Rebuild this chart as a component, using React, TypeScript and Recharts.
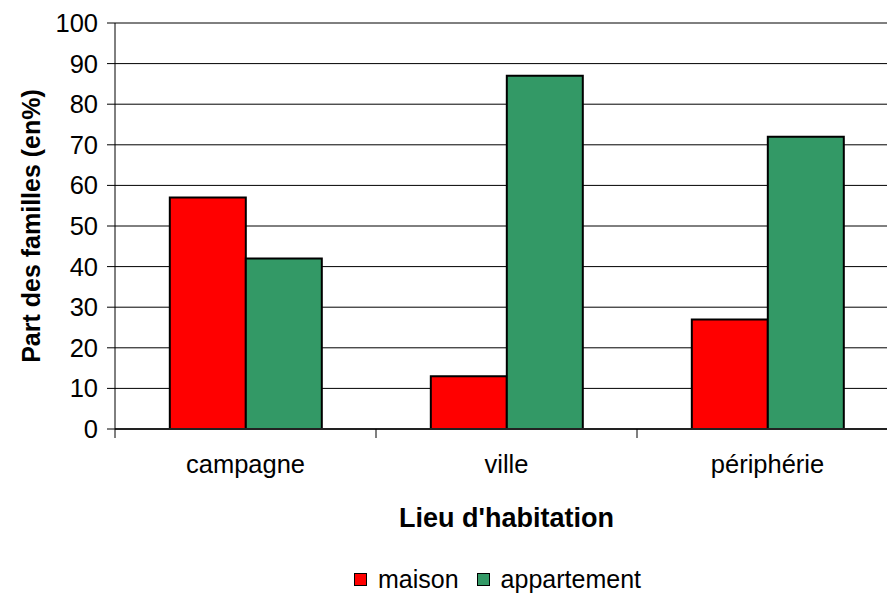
import {
  BarChart,
  Bar,
  XAxis,
  YAxis,
  CartesianGrid,
  Legend,
} from "recharts";

const CATEGORIES = ["campagne", "ville", "périphérie"];
const MAISON = [57, 13, 27];
const APPARTEMENT = [42, 87, 72];
const Y_TICKS = [0, 10, 20, 30, 40, 50, 60, 70, 80, 90, 100];

const SERIES = [
  { key: "maison", name: "maison", color: "#ff0000" },
  { key: "appartement", name: "appartement", color: "#339966" },
];

const data = CATEGORIES.map((c, i) => ({
  lieu: c,
  maison: MAISON[i],
  appartement: APPARTEMENT[i],
}));

const FONT = '"Liberation Sans", Arial, sans-serif';

function CategoryTick(props: any) {
  const { x, y, payload, index, visibleTicksCount } = props;
  const half = payload?.offset ?? 0;
  const last = index === (visibleTicksCount ?? CATEGORIES.length) - 1;
  return (
    <g>
      <line x1={x - half} x2={x - half} y1={y} y2={y + 9} stroke="#000" />
      {last && <line x1={x + half} x2={x + half} y1={y} y2={y + 9} stroke="#000" />}
      <text x={x} y={y + 44} textAnchor="middle" fontSize={25.5} fill="#000" fontFamily={FONT}>
        {payload.value}
      </text>
    </g>
  );
}

function LegendContent() {
  return (
    <div
      style={{
        display: "flex",
        justifyContent: "center",
        alignItems: "center",
        height: 30,
        fontFamily: FONT,
        fontSize: 25,
        lineHeight: 1,
        color: "#000",
        transform: "translateY(1px)",
      }}
    >
      {SERIES.map((s) => (
        <span key={s.key} style={{ display: "flex", alignItems: "center", marginRight: 18 }}>
          <span
            style={{
              display: "inline-block",
              width: 11,
              height: 11,
              background: s.color,
              border: "1.5px solid #000",
              marginRight: 11,
            }}
          />
          {s.name}
        </span>
      ))}
    </div>
  );
}

export default function App() {
  return (
    <div
      style={{
        position: "absolute",
        left: 0,
        top: 0,
        width: 887,
        height: 593,
        overflow: "hidden",
        background: "#fff",
      }}
    >
      <BarChart
        width={900}
        height={593}
        data={data}
        margin={{ top: 23, right: 2, left: 0, bottom: 0 }}
        barCategoryGap="21%"
        barGap={0}
        style={{ fontFamily: FONT }}
      >
        <CartesianGrid vertical={false} stroke="#000" strokeWidth={1} />
        <XAxis
          dataKey="lieu"
          height={134}
          tickSize={0}
          tickMargin={0}
          tick={<CategoryTick />}
          axisLine={{ stroke: "#222", strokeWidth: 2 }}
          interval={0}
          label={{
            value: "Lieu d'habitation",
            position: "insideBottom",
            offset: 36,
            style: { fontSize: 27, fontWeight: "bold", fill: "#000", fontFamily: FONT },
          }}
        />
        <YAxis
          width={115}
          domain={[0, 100]}
          ticks={Y_TICKS}
          interval={0}
          tickSize={8}
          tickMargin={9}
          tick={{ fontSize: 25.5, fill: "#000", fontFamily: FONT }}
          tickLine={{ stroke: "#000" }}
          axisLine={{ stroke: "#000" }}
          label={{
            value: "Part des familles (en%)",
            angle: -90,
            position: "insideLeft",
            offset: 31,
            style: {
              fontSize: 25,
              fontWeight: "bold",
              fill: "#000",
              textAnchor: "middle",
              fontFamily: FONT,
            },
          }}
        />
        <Legend
          verticalAlign="bottom"
          content={<LegendContent />}
          wrapperStyle={{ left: 115, width: 783 }}
        />
        {SERIES.map((s) => (
          <Bar
            key={s.key}
            dataKey={s.key}
            name={s.name}
            fill={s.color}
            stroke="#000"
            strokeWidth={2}
            isAnimationActive={false}
          />
        ))}
      </BarChart>
    </div>
  );
}
